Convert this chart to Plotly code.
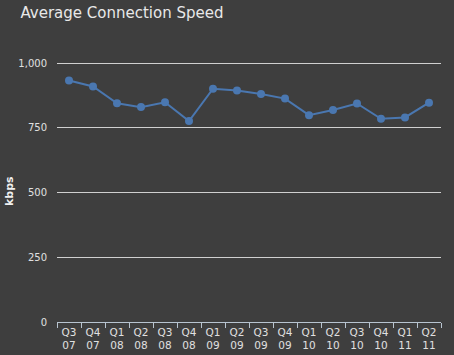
import plotly.graph_objects as go

quarters = ["Q3<br>07", "Q4<br>07", "Q1<br>08", "Q2<br>08", "Q3<br>08", "Q4<br>08",
            "Q1<br>09", "Q2<br>09", "Q3<br>09", "Q4<br>09", "Q1<br>10", "Q2<br>10",
            "Q3<br>10", "Q4<br>10", "Q1<br>11", "Q2<br>11"]
speed_kbps = [933, 910, 845, 830, 849, 776, 901, 894, 881, 863, 799, 819, 844, 785, 790, 847]
y_ticks = [0, 250, 500, 750, 1000]
y_tick_labels = ["0", "250", "500", "750", "1,000"]

bg = "#3e3e3e"
fig = go.Figure()
fig.add_trace(go.Scatter(
    x=quarters, y=speed_kbps, mode="lines+markers",
    line=dict(color="#4a77b0", width=2),
    marker=dict(color="#4a77b0", size=8),
    hoverinfo="x+y",
))
fig.update_layout(
    width=454, height=355,
    paper_bgcolor=bg, plot_bgcolor=bg,
    margin=dict(l=57, r=13, t=60, b=33),
    showlegend=False,
    font=dict(family="DejaVu Sans", color="#e0e0e0", size=10),
    title=dict(text="Average Connection Speed", x=0.045, xanchor="left",
               y=0.965, yanchor="middle",
               font=dict(family="DejaVu Sans", size=15, color="#e8e8e8")),
    xaxis=dict(
        type="category", showgrid=False, showline=True, linecolor="#b8c4d0", linewidth=1,
        ticks="outside", tickson="boundaries", ticklen=5, tickcolor="#b8c4d0",
        tickfont=dict(size=10.5, color="#e0e0e0"), tickangle=0, automargin=False,
        range=[-0.5, 15.5], fixedrange=True,
    ),
    yaxis=dict(
        range=[0, 1012], tickvals=y_ticks, ticktext=y_tick_labels,
        showgrid=True, gridcolor="#d0d0d0", gridwidth=1, zeroline=False,
        tickfont=dict(size=10, color="#e0e0e0"), ticks="", ticklabelstandoff=9,
        automargin=False, fixedrange=True,
    ),
    annotations=[dict(text="<b>kbps</b>", x=-0.125, y=0.5,
                      xref="paper", yref="paper", showarrow=False,
                      textangle=-90, xanchor="center", yanchor="middle",
                      font=dict(size=11, color="#f0f0f0"))],
)
fig.write_html("out.html", config={"displayModeBar": False},
               post_script="document.body.style.margin='0';document.body.style.background='#3e3e3e';")
